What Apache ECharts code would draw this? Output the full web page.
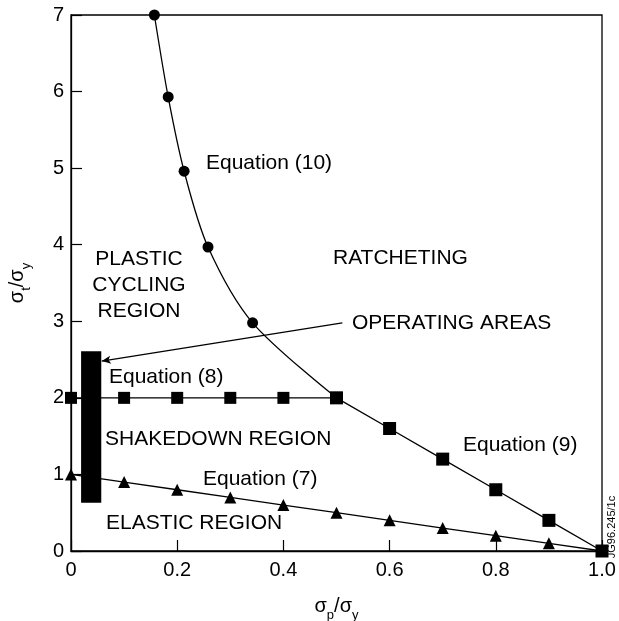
<!DOCTYPE html>
<html>
<head>
<meta charset="utf-8">
<script src="https://cdn.jsdelivr.net/npm/echarts@6/dist/echarts.min.js"></script>
<style>
html,body{margin:0;padding:0;background:#fff;}
#c{width:619px;height:621px;}
</style>
</head>
<body>
<div id="c"></div>
<script>
// ---- data ----
const xTicks = [0, 0.2, 0.4, 0.6, 0.8, 1.0];
const yTicks = [0, 1, 2, 3, 4, 5, 6, 7];
// Equation (10): ratcheting boundary (circles)
const eq10X = [0.157, 0.183, 0.213, 0.258, 0.342, 0.5];
const eq10Y = [7.0, 5.93, 4.96, 3.97, 2.98, 2.0];
// Equation (8): shakedown boundary (squares)
const eq8X = [0, 0.1, 0.2, 0.3, 0.4, 0.5];
const eq8Y = [2, 2, 2, 2, 2, 2];
// Equation (9): squares
const eq9X = [0.5, 0.6, 0.7, 0.8, 0.9, 1.0];
const eq9Y = [2.0, 1.6, 1.2, 0.8, 0.4, 0.0];
// Equation (7): elastic boundary (triangles)
const eq7X = [0, 0.1, 0.2, 0.3, 0.4, 0.5, 0.6, 0.7, 0.8, 0.9, 1.0];
const eq7Y = [1.0, 0.9, 0.8, 0.7, 0.6, 0.5, 0.4, 0.3, 0.2, 0.1, 0.0];
// Operating areas bar (x range, y range)
const opX = [0.019, 0.057];
const opY = [0.63, 2.61];
// Arrow from label to bar
const arrowFrom = [0.511, 2.98];
const arrowTo = [0.058, 2.48];

const zip = (xs, ys) => xs.map((x, i) => [x, ys[i]]);
const FONT = '"Liberation Sans", Arial, Helvetica, sans-serif';
const lineStyle = {color: '#000', width: 1.3};

const chart = echarts.init(document.getElementById('c'), null, {renderer: 'canvas'});
const txt = (text, x, y, align) => ({
  type: 'text', x: x, y: y,
  style: {text: text, fill: '#000', font: '21px ' + FONT, textAlign: align || 'left', textVerticalAlign: 'middle'}
});
const richName = {
  s: {fontFamily: FONT, fontSize: 20, color: '#000', lineHeight: 24},
  b: {fontFamily: FONT, fontSize: 13, color: '#000', verticalAlign: 'bottom', padding: [0, 0, -4, 0], lineHeight: 24}
};

chart.setOption({
  animation: false,
  backgroundColor: '#fff',
  grid: {
    left: 71, right: 17, top: 15, bottom: 70, containLabel: false, outerBoundsMode: 'none',
    show: true, borderColor: '#000', borderWidth: 1.3
  },
  xAxis: {
    type: 'value', min: 0, max: 1, interval: 0.2,
    axisLine: {show: true, lineStyle: {color: '#000', width: 1.3}},
    axisTick: {show: true, inside: true, length: 11, lineStyle: {color: '#000', width: 1.2}},
    splitLine: {show: false},
    axisLabel: {
      color: '#000', fontFamily: FONT, fontSize: 20, margin: 9,
      formatter: v => (v === 0 ? '0' : v.toFixed(1))
    },
    name: '{s|σ}{b|p}{s|/σ}{b|y}', nameLocation: 'middle', nameGap: 43,
    nameTextStyle: {rich: richName}
  },
  yAxis: {
    type: 'value', min: 0, max: 7, interval: 1,
    axisLine: {show: true, lineStyle: {color: '#000', width: 1.3}},
    axisTick: {show: true, inside: true, length: 11, lineStyle: {color: '#000', width: 1.2}},
    splitLine: {show: false},
    axisLabel: {color: '#000', fontFamily: FONT, fontSize: 20, margin: 7},
    name: '{s|σ}{b|t}{s|/σ}{b|y}', nameLocation: 'middle', nameGap: 42, nameRotate: 90,
    nameTextStyle: {rich: richName}
  },
  series: [
    {
      name: 'Equation (7)', type: 'line', data: zip(eq7X, eq7Y),
      symbol: 'triangle', symbolSize: 12, lineStyle: lineStyle,
      itemStyle: {color: '#000'}, z: 3
    },
    {
      name: 'Equation (8)', type: 'line', data: zip(eq8X, eq8Y),
      symbol: 'rect', symbolSize: 12, lineStyle: lineStyle,
      itemStyle: {color: '#000'}, z: 3
    },
    {
      name: 'Equation (9)', type: 'line', data: zip(eq9X, eq9Y),
      symbol: 'rect', symbolSize: 13, lineStyle: lineStyle,
      itemStyle: {color: '#000'}, z: 4
    },
    {
      name: 'Equation (10)', type: 'line', data: zip(eq10X, eq10Y), smooth: 0.3,
      symbol: 'circle', symbolSize: 11, lineStyle: lineStyle,
      itemStyle: {color: '#000'}, z: 3,
      markLine: {
        silent: true, symbol: ['none', 'arrow'], symbolSize: [6, 9],
        label: {show: false},
        lineStyle: {color: '#000', width: 1.2, type: 'solid'},
        data: [[{coord: arrowFrom}, {coord: arrowTo}]]
      }
    },
    {
      name: 'Operating areas', type: 'line', data: [], z: 5,
      markArea: {
        silent: true, itemStyle: {color: '#000', opacity: 1},
        data: [[{coord: [opX[0], opY[0]]}, {coord: [opX[1], opY[1]]}]]
      }
    }
  ],
  graphic: [
    txt('Equation (10)', 206, 163),
    txt('PLASTIC', 139, 259, 'center'),
    txt('CYCLING', 139, 285, 'center'),
    txt('REGION', 139, 311, 'center'),
    txt('RATCHETING', 333, 258),
    txt('OPERATING AREAS', 352, 323),
    txt('Equation (8)', 109, 377),
    txt('SHAKEDOWN REGION', 105, 439),
    txt('Equation (9)', 463, 445),
    txt('Equation (7)', 203, 479),
    txt('ELASTIC REGION', 106, 523),
    {
      type: 'text', x: 612, y: 527, rotation: Math.PI / 2,
      style: {text: 'JG96.245/1c', fill: '#000', font: '11px ' + FONT, textAlign: 'center', textVerticalAlign: 'middle'}
    }
  ]
});
</script>
</body>
</html>
